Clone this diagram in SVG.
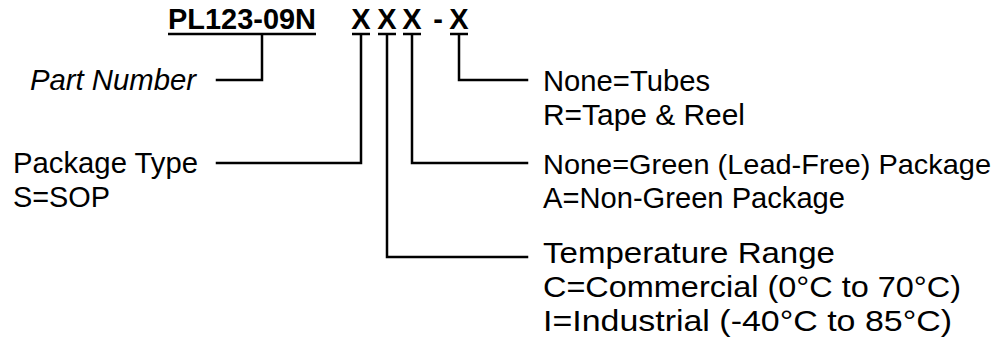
<svg xmlns="http://www.w3.org/2000/svg" width="1000" height="343" viewBox="0 0 1000 343">
<style>
  .t { font-family: "Liberation Sans", Arial, sans-serif; font-size: 30px; fill: #000; }
  .b { font-family: "Liberation Sans", Arial, sans-serif; font-size: 29px; font-weight: bold; fill: #000; }
  .i { font-style: italic; }
  .ln { fill: none; stroke: #000; stroke-width: 2.5; stroke-linecap: square; stroke-linejoin: miter; }
  .ul { stroke: #000; stroke-width: 2.5; }
</style>
<rect width="1000" height="343" fill="#fff"/>
<g id="header">
  <text class="b" x="168" y="29" textLength="148" lengthAdjust="spacingAndGlyphs">PL123-09N</text>
  <line class="ul" x1="168" y1="34" x2="316" y2="34"/>
  <text class="b" x="361" y="29" text-anchor="middle">X</text>
  <text class="b" x="387" y="29" text-anchor="middle">X</text>
  <text class="b" x="412" y="29" text-anchor="middle">X</text>
  <text class="b" x="438" y="29" text-anchor="middle">-</text>
  <text class="b" x="459" y="29" text-anchor="middle">X</text>
  <line class="ul" x1="352" y1="34" x2="370" y2="34"/>
  <line class="ul" x1="378" y1="34" x2="396" y2="34"/>
  <line class="ul" x1="403" y1="34" x2="421" y2="34"/>
  <line class="ul" x1="450" y1="34" x2="468" y2="34"/>
</g>
<g id="connectors">
  <path class="ln" d="M262,35 V80 H217"/>
  <path class="ln" d="M361,35 V163 H217"/>
  <path class="ln" d="M387,35 V257 H527"/>
  <path class="ln" d="M412,35 V163 H527"/>
  <path class="ln" d="M459,35 V80 H527"/>
</g>
<g id="part-number">
  <text class="t i" x="30" y="90" textLength="166" lengthAdjust="spacingAndGlyphs">Part Number</text>
</g>
<g id="package-type">
  <text class="t" x="13" y="173" textLength="185" lengthAdjust="spacingAndGlyphs">Package Type</text>
  <text class="t" x="13" y="207" textLength="97" lengthAdjust="spacingAndGlyphs">S=SOP</text>
</g>
<g id="packing">
  <text class="t" x="543" y="91" textLength="167" lengthAdjust="spacingAndGlyphs">None=Tubes</text>
  <text class="t" x="543" y="125" textLength="202" lengthAdjust="spacingAndGlyphs">R=Tape &amp; Reel</text>
</g>
<g id="green">
  <text class="t" x="543" y="174" style="font-size:28px" textLength="448" lengthAdjust="spacingAndGlyphs">None=Green (Lead-Free) Package</text>
  <text class="t" x="543" y="208" textLength="302" lengthAdjust="spacingAndGlyphs">A=Non-Green Package</text>
</g>
<g id="temperature">
  <text class="t" x="543" y="263" textLength="292" lengthAdjust="spacingAndGlyphs">Temperature Range</text>
  <text class="t" x="543" y="297" textLength="418" lengthAdjust="spacingAndGlyphs">C=Commercial (0°C to 70°C)</text>
  <text class="t" x="543" y="331" textLength="409" lengthAdjust="spacingAndGlyphs">I=Industrial (-40°C to 85°C)</text>
</g>
</svg>
